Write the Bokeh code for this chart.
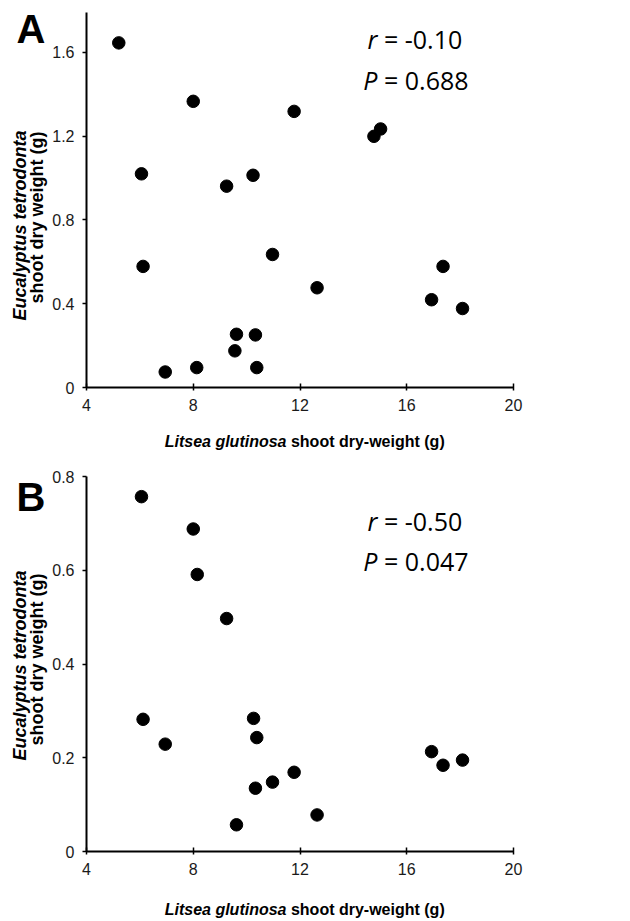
import math
from bokeh.plotting import figure
from bokeh.layouts import column, row
from bokeh.models import Label, FixedTicker, Range1d, CustomJSTickFormatter
from bokeh.embed import file_html
from bokeh.resources import INLINE

# ---------------- data ----------------
x_ticks = [4, 8, 12, 16, 20]
a_y_ticks = [0, 0.4, 0.8, 1.2, 1.6]
b_y_ticks = [0, 0.2, 0.4, 0.6, 0.8]

a_litsea = [5.21, 8.00, 6.06, 9.25, 10.24, 11.78, 14.77, 15.02, 6.12, 10.97,
            12.64, 16.93, 17.36, 18.09, 9.62, 10.33, 9.56, 6.95, 8.13, 10.38]
a_eucalyptus = [1.645, 1.366, 1.020, 0.961, 1.013, 1.318, 1.199, 1.234, 0.578, 0.635,
                0.476, 0.419, 0.578, 0.377, 0.254, 0.251, 0.175, 0.074, 0.095, 0.095]

b_litsea = [6.06, 8.00, 8.15, 9.25, 6.12, 6.95, 10.26, 10.38, 10.33, 10.97,
            11.78, 12.64, 9.62, 16.93, 17.36, 18.09]
b_eucalyptus = [0.757, 0.688, 0.591, 0.497, 0.282, 0.229, 0.284, 0.243, 0.135, 0.148,
                0.169, 0.078, 0.057, 0.213, 0.184, 0.195]

panel_letters = ["A", "B"]
a_stats = ["r", "\u00a0= -0.10", "P", "\u00a0= 0.688"]
b_stats = ["r", "\u00a0= -0.50", "P", "\u00a0= 0.047"]
x_label_italic = "Litsea glutinosa"
x_label_rest = "\u00a0shoot dry-weight (g)"
y_label_line1 = "Eucalyptus tetrodonta"
y_label_line2 = "shoot dry weight (g)"

# ---------------- layout constants ----------------
PAGE_W = 630
SIDE_W = 49          # column holding panel letter and y-axis title
FRAME_W = 427
FRAME_H = 375
FRAME_LEFT = 85      # page x of the frame's left edge
MAIN_LEFT = FRAME_LEFT - SIDE_W
MAIN_W = PAGE_W - SIDE_W
TICK_FONT = "Liberation Sans"
LABEL_FONT = "Liberation Sans"
STAT_FONT = "Open Sans"


def style_blank(f):
    f.grid.visible = False
    f.outline_line_color = None
    f.background_fill_color = "white"
    f.border_fill_color = "white"


def make_panel(xs, ys, yticks, ymax, top_border, bottom_border, page_top):
    p = figure(frame_width=FRAME_W, frame_height=FRAME_H,
               min_border_left=MAIN_LEFT, min_border_right=MAIN_W - MAIN_LEFT - FRAME_W,
               min_border_top=top_border, min_border_bottom=bottom_border,
               x_range=Range1d(4, 20), y_range=Range1d(0, ymax),
               output_backend="svg", toolbar_location=None)
    style_blank(p)

    p.xaxis.ticker = FixedTicker(ticks=x_ticks)
    p.yaxis.ticker = FixedTicker(ticks=yticks)
    p.yaxis.formatter = CustomJSTickFormatter(code="return String(Math.round(tick*10)/10)")
    for ax in (p.xaxis, p.yaxis):
        ax.axis_line_width = 2
        ax.axis_line_color = "black"
        ax.major_tick_line_color = "black"
        ax.major_tick_line_width = 1.5
        ax.minor_tick_line_color = None
        ax.major_label_text_font = TICK_FONT
        ax.major_label_text_font_size = "16px"
        ax.major_label_text_color = "#1a1a1a"
    p.xaxis.major_tick_in = 4
    p.xaxis.major_tick_out = 3
    p.xaxis.major_label_standoff = 8
    p.yaxis.major_tick_in = 0
    p.yaxis.major_tick_out = 4
    p.yaxis.major_label_standoff = 8

    p.scatter(xs, ys, size=12.5, fill_color="black", line_color="black")

    frame_bottom_page = page_top + top_border + FRAME_H

    def dx(px):
        return 4 + (px - FRAME_LEFT) * 16.0 / FRAME_W

    def dy(py):
        return (frame_bottom_page - py) * ymax / FRAME_H

    return p, dx, dy


def add_stats(p, dx, dy, stats, y1, y2):
    # y1, y2: page y of the vertical middle of each line
    for i, sy in enumerate([y1, y2]):
        p.add_layout(Label(x=dx(376), y=dy(sy), text=stats[2 * i],
                           text_font=STAT_FONT, text_font_style="italic",
                           text_font_size="25px", text_color="black",
                           text_align="right", text_baseline="middle"))
        p.add_layout(Label(x=dx(376), y=dy(sy), text=stats[2 * i + 1],
                           text_font=STAT_FONT, text_font_style="normal",
                           text_font_size="25px", text_color="black",
                           text_align="left", text_baseline="middle"))


def side_fig(top_border, bottom_border, page_top, letter, letter_mid, yl1_start, yl2_start):
    # same vertical frame as the main panel, so row alignment changes nothing
    f = figure(frame_width=SIDE_W, frame_height=FRAME_H,
               min_border_left=0, min_border_right=0,
               min_border_top=top_border, min_border_bottom=bottom_border,
               x_range=Range1d(0, SIDE_W), y_range=Range1d(0, FRAME_H),
               x_axis_location=None, y_axis_location=None,
               output_backend="svg", toolbar_location=None)
    style_blank(f)
    frame_bottom_page = page_top + top_border + FRAME_H

    def ty(py):
        return frame_bottom_page - py

    f.add_layout(Label(x=16, y=ty(letter_mid), text=letter,
                       text_font=LABEL_FONT, text_font_style="bold",
                       text_font_size="40px", text_color="black",
                       text_align="left", text_baseline="middle"))
    f.add_layout(Label(x=19, y=ty(yl1_start), text=y_label_line1, angle=math.pi / 2,
                       text_font=LABEL_FONT, text_font_style="bold italic",
                       text_font_size="18px", text_color="black",
                       text_align="left", text_baseline="middle"))
    f.add_layout(Label(x=36, y=ty(yl2_start), text=y_label_line2, angle=math.pi / 2,
                       text_font=LABEL_FONT, text_font_style="bold",
                       text_font_size="18px", text_color="black",
                       text_align="left", text_baseline="middle"))
    return f


def xlabel_fig(h, page_top, label_y):
    f = figure(width=PAGE_W, height=h, x_range=Range1d(0, PAGE_W), y_range=Range1d(0, h),
               min_border=0, x_axis_location=None, y_axis_location=None,
               output_backend="svg", toolbar_location=None)
    style_blank(f)
    y = h - (label_y - page_top)
    f.add_layout(Label(x=286, y=y, text=x_label_italic,
                       text_font=LABEL_FONT, text_font_style="bold italic",
                       text_font_size="16px", text_color="black",
                       text_align="right", text_baseline="middle"))
    f.add_layout(Label(x=286, y=y, text=x_label_rest,
                       text_font=LABEL_FONT, text_font_style="bold",
                       text_font_size="16px", text_color="black",
                       text_align="left", text_baseline="middle"))
    return f


# ---------------- panel A (page y 0..460) ----------------
A_TOP_BORDER, A_BOTTOM_BORDER = 12, 38
A_H = A_TOP_BORDER + FRAME_H + A_BOTTOM_BORDER           # 425
pa, ax_, ay_ = make_panel(a_litsea, a_eucalyptus, a_y_ticks, 1.79,
                          A_TOP_BORDER, A_BOTTOM_BORDER, 0)
add_stats(pa, ax_, ay_, a_stats, 38, 79)
sa = side_fig(A_TOP_BORDER, A_BOTTOM_BORDER, 0, panel_letters[0], 28, 320, 303)
xa = xlabel_fig(460 - A_H, A_H, 441)

# ---------------- panel B (page y 460..920) ----------------
B_TOP_BORDER, B_BOTTOM_BORDER = 16, 38
B_H = B_TOP_BORDER + FRAME_H + B_BOTTOM_BORDER           # 429
pb, bx_, by_ = make_panel(b_litsea, b_eucalyptus, b_y_ticks, 0.8,
                          B_TOP_BORDER, B_BOTTOM_BORDER, 460)
add_stats(pb, bx_, by_, b_stats, 520, 560)
sb = side_fig(B_TOP_BORDER, B_BOTTOM_BORDER, 460, panel_letters[1], 496, 760, 745)
xb = xlabel_fig(920 - 460 - B_H, 460 + B_H, 909)

layout = column(row(sa, pa, spacing=0), xa, row(sb, pb, spacing=0), xb, spacing=0)
open("out.html", "w").write(file_html(layout, INLINE))
